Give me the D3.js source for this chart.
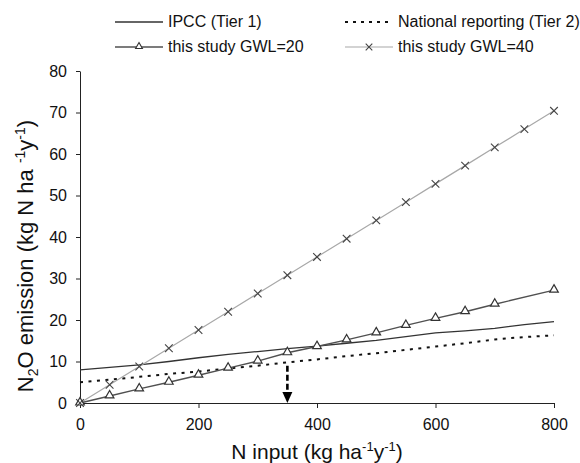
<!DOCTYPE html>
<html>
<head>
<meta charset="utf-8">
<script src="https://cdn.jsdelivr.net/npm/d3@7"></script>
<style>
  body { margin: 0; background: #fff; }
  svg { display: block; font-family: "Liberation Sans", Arial, sans-serif; }
</style>
</head>
<body>
<div id="chart"></div>
<script>
// N input steps (kg ha-1 y-1)
const nInput = [0, 50, 100, 150, 200, 250, 300, 350, 400, 450, 500, 550, 600, 650, 700, 750, 800];
const ipccTier1 = [8.0, 8.6, 9.2, 10.0, 10.9, 11.7, 12.4, 13.1, 13.7, 14.4, 15.1, 16.0, 16.9, 17.4, 18.0, 18.9, 19.6];
const nationalTier2 = [5.0, 5.6, 6.3, 7.0, 7.6, 8.3, 9.0, 9.8, 10.5, 11.3, 12.0, 12.8, 13.6, 14.4, 15.3, 15.9, 16.3];
const gwl20X = [0, 50, 100, 150, 200, 250, 300, 350, 400, 450, 500, 550, 600, 650, 700, 800];
const gwl20 = [0, 1.7, 3.4, 5.0, 6.7, 8.4, 10.1, 12.1, 13.6, 15.2, 16.9, 18.7, 20.4, 22.0, 23.8, 27.2];
const gwl40 = [0, 4.4, 8.8, 13.2, 17.6, 22.0, 26.4, 30.8, 35.2, 39.6, 44.0, 48.4, 52.8, 57.2, 61.6, 66.0, 70.4];
const xTicks = [0, 200, 400, 600, 800];
const yTicks = [0, 10, 20, 30, 40, 50, 60, 70, 80];
const arrowX = 350, arrowFrom = 9.0, arrowTo = 0;

const width = 580, height = 463;
const svg = d3.select("#chart").append("svg")
  .attr("width", width).attr("height", height);

const x = d3.scaleLinear().domain([0, 800]).range([80, 554]);
const y = d3.scaleLinear().domain([0, 80]).range([403, 71]);

// axes
const xAxis = svg.append("g")
  .attr("transform", `translate(0,${y(0)})`)
  .call(d3.axisBottom(x).tickValues(xTicks).tickSize(5).tickSizeOuter(0).tickPadding(11));
const yAxis = svg.append("g")
  .attr("transform", `translate(${x(0)},0)`)
  .call(d3.axisLeft(y).tickValues(yTicks).tickSize(4).tickSizeOuter(0).tickPadding(9));
[xAxis, yAxis].forEach(g => {
  g.selectAll("path, line").attr("stroke", "#222");
  g.selectAll("text").attr("font-size", 16).attr("fill", "#111")
    .attr("font-family", "Liberation Sans, Arial, sans-serif");
});

const pts = (xs, ys) => xs.map((v, i) => [v, ys[i]]);
const line = d3.line().x(d => x(d[0])).y(d => y(d[1]));

svg.append("path").datum(pts(nInput, ipccTier1))
  .attr("fill", "none").attr("stroke", "#333").attr("stroke-width", 1.3)
  .attr("d", line);
svg.append("path").datum(pts(nInput, nationalTier2))
  .attr("fill", "none").attr("stroke", "#111").attr("stroke-width", 2)
  .attr("stroke-dasharray", "3,5.5")
  .attr("d", line);
svg.append("path").datum(pts(nInput, gwl40))
  .attr("fill", "none").attr("stroke", "#a8a8a8").attr("stroke-width", 1.2)
  .attr("d", line);
svg.append("path").datum(pts(gwl20X, gwl20))
  .attr("fill", "none").attr("stroke", "#505050").attr("stroke-width", 1.4)
  .attr("d", line);

// markers
const tri = d3.symbol().type(d3.symbolTriangle).size(32);
svg.selectAll(".tri").data(pts(gwl20X, gwl20)).enter()
  .append("path").attr("class", "tri")
  .attr("transform", d => `translate(${x(d[0])},${y(d[1]) - 0.5})`)
  .attr("d", tri).attr("fill", "#fff").attr("stroke", "#333").attr("stroke-width", 1.2);
const cross = d3.symbol().type(d3.symbolX).size(40);
svg.selectAll(".cross").data(pts(nInput, gwl40)).enter()
  .append("path").attr("class", "cross")
  .attr("transform", d => `translate(${x(d[0])},${y(d[1])})`)
  .attr("d", cross).attr("fill", "none").attr("stroke", "#444").attr("stroke-width", 1.1);

// arrow at N input = 350
svg.append("line")
  .attr("x1", x(arrowX)).attr("x2", x(arrowX))
  .attr("y1", y(arrowFrom)).attr("y2", y(arrowTo) - 10)
  .attr("stroke", "#000").attr("stroke-width", 2.6).attr("stroke-dasharray", "6,3");
svg.append("path")
  .attr("d", `M${x(arrowX) - 5},${y(arrowTo) - 11}L${x(arrowX) + 5},${y(arrowTo) - 11}L${x(arrowX)},${y(arrowTo)}Z`)
  .attr("fill", "#000");

// axis titles
const xt = svg.append("text")
  .attr("x", (x(0) + x(800)) / 2).attr("y", 459)
  .attr("text-anchor", "middle").attr("font-size", 21).attr("fill", "#111");
xt.append("tspan").text("N input (kg ha");
xt.append("tspan").attr("dy", -8).attr("font-size", 13).text("-1");
xt.append("tspan").attr("dy", 8).text("y");
xt.append("tspan").attr("dy", -8).attr("font-size", 13).text("-1");
xt.append("tspan").attr("dy", 8).text(")");

const yt = svg.append("text")
  .attr("transform", "translate(33,256) rotate(-90)")
  .attr("text-anchor", "middle").attr("font-size", 22).attr("fill", "#111");
yt.append("tspan").text("N");
yt.append("tspan").attr("dy", 5).attr("font-size", 14).text("2");
yt.append("tspan").attr("dy", -5).text("O emission (kg N ha ");
yt.append("tspan").attr("dy", -8).attr("font-size", 14).text("-1");
yt.append("tspan").attr("dy", 8).text("y");
yt.append("tspan").attr("dy", -8).attr("font-size", 14).text("-1");
yt.append("tspan").attr("dy", 8).text(")");

// legend
const legendItems = [
  { label: "IPCC (Tier 1)", col: 0, row: 0, stroke: "#333", dash: null, w: 1.3, mark: null },
  { label: "National reporting (Tier 2)", col: 1, row: 0, stroke: "#111", dash: "3,5", w: 2, mark: null },
  { label: "this study GWL=20", col: 0, row: 1, stroke: "#505050", dash: null, w: 1.4, mark: "tri" },
  { label: "this study GWL=40", col: 1, row: 1, stroke: "#a8a8a8", dash: null, w: 1.2, mark: "cross" }
];
const colX = [115, 345], rowY = [22, 47];
const lg = svg.selectAll(".legend").data(legendItems).enter().append("g")
  .attr("transform", d => `translate(${colX[d.col]},${rowY[d.row]})`);
lg.append("line").attr("x1", 0).attr("x2", 48).attr("y1", 0).attr("y2", 0)
  .attr("stroke", d => d.stroke).attr("stroke-width", d => d.w)
  .attr("stroke-dasharray", d => d.dash);
lg.filter(d => d.mark === "tri").append("path")
  .attr("transform", "translate(24,-0.5)")
  .attr("d", d3.symbol().type(d3.symbolTriangle).size(20))
  .attr("fill", "#fff").attr("stroke", "#333").attr("stroke-width", 1.1);
lg.filter(d => d.mark === "cross").append("path")
  .attr("transform", "translate(24,0)")
  .attr("d", d3.symbol().type(d3.symbolX).size(30))
  .attr("fill", "none").attr("stroke", "#444").attr("stroke-width", 1.1);
lg.append("text").attr("x", 53).attr("y", 4.5)
  .attr("font-size", 16).attr("fill", "#111").text(d => d.label);
</script>
</body>
</html>
